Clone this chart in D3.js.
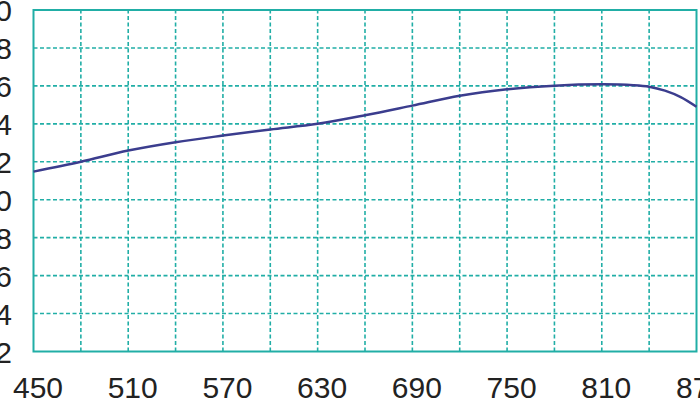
<!DOCTYPE html>
<html>
<head>
<meta charset="utf-8">
<script src="https://cdn.jsdelivr.net/npm/d3@7"></script>
<style>
  body { margin: 0; background: #fff; }
  svg { display: block; }
</style>
</head>
<body>
<svg id="chart" width="700" height="399"></svg>
<script>
// values
var wavelength = [450, 480, 510, 540, 570, 600, 630, 660, 690, 720, 750, 780, 810, 830, 840, 850, 860, 870];
var response = [1.148, 1.2, 1.259, 1.303, 1.338, 1.37, 1.4, 1.445, 1.496, 1.548, 1.582, 1.601, 1.608, 1.604, 1.596, 1.575, 1.541, 1.49];

var xTicks = [450, 510, 570, 630, 690, 750, 810, 870];
var xGrid = [480, 510, 540, 570, 600, 630, 660, 690, 720, 750, 780, 810, 840];
var yTicks = [0.2, 0.4, 0.6, 0.8, 1.0, 1.2, 1.4, 1.6, 1.8, 2.0];

var gridColor = "#21aea6";
var lineColor = "#3b3d8e";

var margin = { left: 33.5, right: 3.5, top: 10, bottom: 47.5 };
var width = 700, height = 399;

var svg = d3.select("#chart");

var x = d3.scaleLinear().domain([450, 870]).range([margin.left, width - margin.right]);
var y = d3.scaleLinear().domain([0.2, 2.0]).range([height - margin.bottom, margin.top]);

// dashed grid
var grid = svg.append("g");
grid.selectAll(".vg")
  .data(xGrid)
  .enter().append("line")
  .attr("x1", d => x(d)).attr("x2", d => x(d))
  .attr("y1", y(0.2)).attr("y2", y(2.0))
  .attr("stroke", gridColor)
  .attr("stroke-width", 1.6)
  .attr("stroke-dasharray", "4,2.5");

grid.selectAll(".hg")
  .data(yTicks.slice(1, -1))
  .enter().append("line")
  .attr("x1", x(450)).attr("x2", x(870))
  .attr("y1", d => y(d)).attr("y2", d => y(d))
  .attr("stroke", gridColor)
  .attr("stroke-width", 1.6)
  .attr("stroke-dasharray", "4,2.5");

// frame
svg.append("rect")
  .attr("x", x(450)).attr("y", y(2.0))
  .attr("width", x(870) - x(450))
  .attr("height", y(0.2) - y(2.0))
  .attr("fill", "none")
  .attr("stroke", gridColor)
  .attr("stroke-width", 2);

// curve
var line = d3.line()
  .x(d => x(d[0]))
  .y(d => y(d[1]))
  .curve(d3.curveCatmullRom);

svg.append("path")
  .datum(d3.zip(wavelength, response))
  .attr("d", line)
  .attr("fill", "none")
  .attr("stroke", lineColor)
  .attr("stroke-width", 2.5);

// axes (labels only)
var xAxis = d3.axisBottom(x)
  .tickValues(xTicks)
  .tickSize(0)
  .tickPadding(0)
  .tickFormat(d3.format("d"));

svg.append("g")
  .attr("transform", "translate(4," + (height - 1) + ")")
  .call(xAxis)
  .call(g => g.select(".domain").remove())
  .selectAll("text")
  .attr("dy", 0)
  .attr("y", 0)
  .attr("font-family", "Liberation Sans, Arial, sans-serif")
  .attr("font-size", 30)
  .attr("fill", "#222");

var yAxis = d3.axisLeft(y)
  .tickValues(yTicks)
  .tickSize(0)
  .tickPadding(0)
  .tickFormat(d3.format(".1f"));

svg.append("g")
  .attr("transform", "translate(12,0)")
  .call(yAxis)
  .call(g => g.select(".domain").remove())
  .selectAll("text")
  .attr("dy", "0.36em")
  .attr("font-family", "Liberation Sans, Arial, sans-serif")
  .attr("font-size", 30)
  .attr("fill", "#222");
</script>
</body>
</html>
